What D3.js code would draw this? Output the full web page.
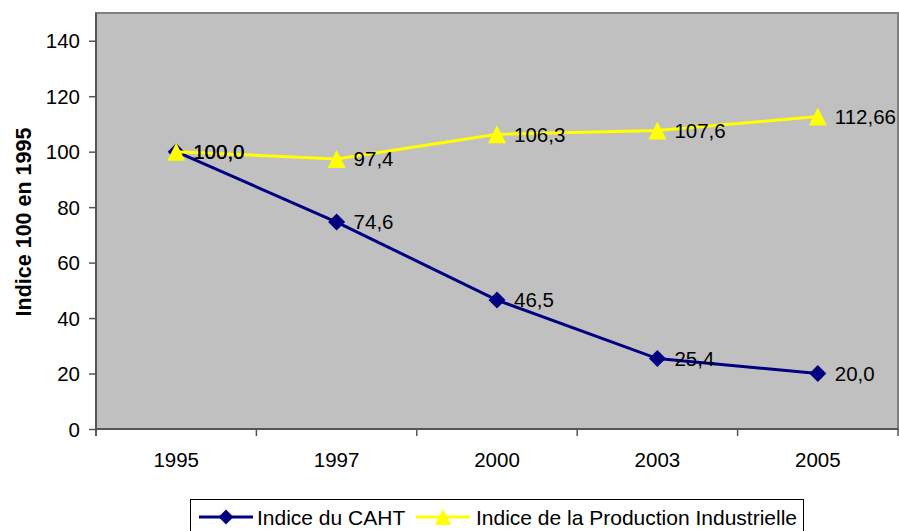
<!DOCTYPE html>
<html><head><meta charset="utf-8">
<script src="https://cdn.jsdelivr.net/npm/d3@7"></script>
<style>
html,body{margin:0;padding:0;background:#fff;}
svg{display:block;font-family:"Liberation Sans",Arial,sans-serif;}
</style></head>
<body>
<svg id="chart" width="899" height="531"></svg>
<script>
const years = ["1995", "1997", "2000", "2003", "2005"];
const cahtValues = [100.0, 74.6, 46.5, 25.4, 20.0];
const ipiValues = [100.0, 97.4, 106.3, 107.6, 112.66];
const cahtLabels = ["100,0", "74,6", "46,5", "25,4", "20,0"];
const ipiLabels = ["100,0", "97,4", "106,3", "107,6", "112,66"];
const yTicks = [0, 20, 40, 60, 80, 100, 120, 140];
const seriesNames = ["Indice du CAHT", "Indice de la Production Industrielle"];
const yTitle = "Indice 100 en 1995";

const svg = d3.select("#chart");
const L = 96, R = 898, T = 13, B = 429;

const x = d3.scaleBand().domain(years).range([L, R]).padding(0);
const y = d3.scaleLinear().domain([0, 150]).range([B, T]);
const cx = d => x(d) + x.bandwidth() / 2;

// plot background
svg.append("rect").attr("x", L).attr("y", T).attr("width", R - L).attr("height", B - T)
  .attr("fill", "#C0C0C0").attr("stroke", "#808080").attr("stroke-width", 2);

// y axis
const yAxis = d3.axisLeft(y).tickValues(yTicks).tickSize(7).tickPadding(9).tickFormat(d3.format("d"));
const gy = svg.append("g").attr("transform", `translate(${L},0)`).call(yAxis);
gy.select(".domain").attr("stroke", "#555").attr("stroke-width", 2).attr("d", `M0,${B + 7}V${T}`);
gy.selectAll(".tick line").attr("stroke", "#555").attr("stroke-width", 1.5);
gy.selectAll(".tick text").attr("font-size", 20.5).attr("fill", "#000")
  .attr("font-family", "Liberation Sans, Arial, sans-serif").attr("dy", "0.35em");

// x axis
const xAxis = d3.axisBottom(x).tickSize(0).tickPadding(23);
const gx = svg.append("g").attr("transform", `translate(0,${B})`).call(xAxis);
gx.select(".domain").attr("stroke", "#555").attr("stroke-width", 2).attr("d", `M${L},0H${R}`);
gx.selectAll(".tick text").attr("font-size", 20.5).attr("fill", "#000")
  .attr("font-family", "Liberation Sans, Arial, sans-serif");
// boundary ticks
const bounds = years.map(d => x(d)).concat([R]);
gx.selectAll("line.bt").data(bounds).enter().append("line").attr("class", "bt")
  .attr("x1", d => d).attr("x2", d => d).attr("y1", 0).attr("y2", 7)
  .attr("stroke", "#555").attr("stroke-width", 1.5);

// y title
svg.append("text").attr("transform", `translate(31,222) rotate(-90)`)
  .attr("text-anchor", "middle").attr("font-weight", "bold").attr("font-size", 21.5)
  .attr("fill", "#000").text(yTitle);

const diamond = s => `M0,${-s}L${s},0L0,${s}L${-s},0Z`;
const triangle = s => `M0,${-s}L${s},${s}L${-s},${s}Z`;

const line = d3.line().x((d, i) => cx(years[i])).y(d => y(d));

// CAHT series
svg.append("path").datum(cahtValues).attr("d", line).attr("fill", "none")
  .attr("stroke", "#000080").attr("stroke-width", 3);
svg.selectAll("path.dm").data(cahtValues).enter().append("path").attr("class", "dm")
  .attr("transform", (d, i) => `translate(${cx(years[i])},${y(d)})`)
  .attr("d", diamond(8.5)).attr("fill", "#000080");

// IPI series
svg.append("path").datum(ipiValues).attr("d", line).attr("fill", "none")
  .attr("stroke", "#FFFF00").attr("stroke-width", 3);
svg.selectAll("path.tr").data(ipiValues).enter().append("path").attr("class", "tr")
  .attr("transform", (d, i) => `translate(${cx(years[i])},${y(d)})`)
  .attr("d", triangle(9)).attr("fill", "#FFFF00");

// labels
function addLabels(vals, labs) {
  svg.selectAll(null).data(vals).enter().append("text")
    .attr("x", (d, i) => cx(years[i]) + 17).attr("y", d => y(d)).attr("dy", "0.36em")
    .attr("font-size", 20.5).attr("fill", "#000").text((d, i) => labs[i]);
}
addLabels(cahtValues, cahtLabels);
addLabels(ipiValues, ipiLabels);

// legend
const lg = svg.append("g");
lg.append("rect").attr("x", 190.5).attr("y", 499.5).attr("width", 613).attr("height", 40)
  .attr("fill", "#fff").attr("stroke", "#000").attr("stroke-width", 1);
const ly = 517;
lg.append("line").attr("x1", 199).attr("x2", 253).attr("y1", ly).attr("y2", ly)
  .attr("stroke", "#000080").attr("stroke-width", 3);
lg.append("path").attr("transform", `translate(226,${ly})`).attr("d", diamond(7.5)).attr("fill", "#000080");
lg.append("text").attr("x", 257).attr("y", ly).attr("dy", "0.36em").attr("font-size", 21).text(seriesNames[0]);
lg.append("line").attr("x1", 416).attr("x2", 470).attr("y1", ly).attr("y2", ly)
  .attr("stroke", "#FFFF00").attr("stroke-width", 3);
lg.append("path").attr("transform", `translate(443,${ly})`).attr("d", triangle(8)).attr("fill", "#FFFF00");
lg.append("text").attr("x", 476).attr("y", ly).attr("dy", "0.36em").attr("font-size", 21).text(seriesNames[1]);
</script>
</body></html>
